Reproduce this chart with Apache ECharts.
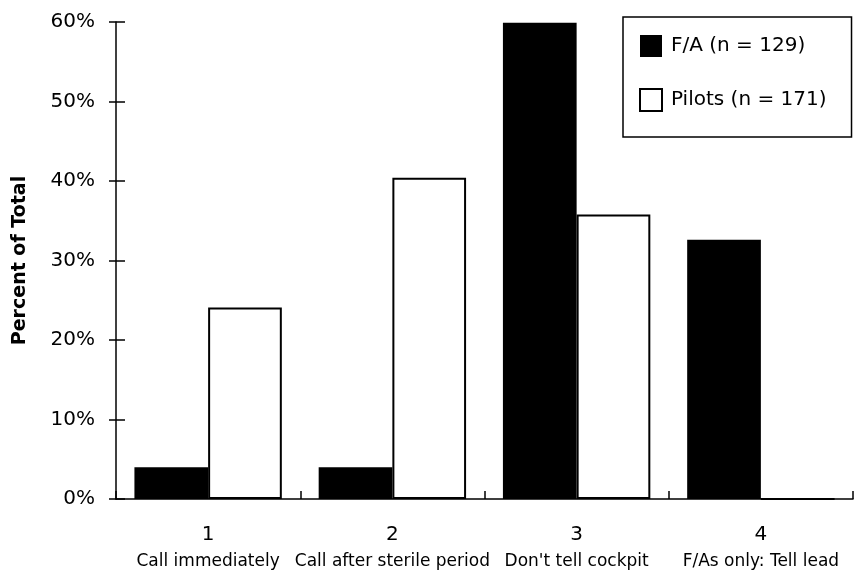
<!DOCTYPE html>
<html>
<head>
<meta charset="utf-8">
<script src="https://cdn.jsdelivr.net/npm/echarts@6/dist/echarts.min.js"></script>
<style>html,body{margin:0;padding:0;background:#fff;}#c{width:861px;height:575px;}</style>
</head>
<body>
<div id="c"></div>
<script>
var categoryNumbers = ['1', '2', '3', '4'];
var categoryNames = ['Call immediately', 'Call after sterile period', "Don't tell cockpit", 'F/As only: Tell lead'];
var faValues = [4.0, 4.0, 59.9, 32.6];
var pilotValues = [24.1, 40.4, 35.8, 0];
var seriesNames = ['F/A (n = 129)', 'Pilots (n = 171)'];
var yTicks = [0, 10, 20, 30, 40, 50, 60];

var categories = categoryNumbers.map(function (n, i) { return n + '|' + categoryNames[i]; });
var font = 'DejaVu Sans';
var gridPos = { left: 116, right: 8, top: 22, bottom: 76, outerBoundsMode: 'none', containLabel: false };
var chart = echarts.init(document.getElementById('c'));
chart.setOption({
  animation: false,
  backgroundColor: '#fff',
  textStyle: { fontFamily: font, color: '#000' },
  grid: [Object.assign({}, gridPos), Object.assign({}, gridPos)],
  legend: {
    orient: 'vertical',
    left: 623, top: 17,
    padding: [18, 25, 25, 16],
    itemWidth: 22, itemHeight: 22, itemGap: 31,
    icon: 'rect',
    borderColor: '#000', borderWidth: 1.5,
    textStyle: { fontFamily: font, fontSize: 20, color: '#000', padding: [0, 0, 0, 4] },
    data: seriesNames
  },
  xAxis: [{
    type: 'category',
    gridIndex: 0,
    data: categories,
    axisLine: { lineStyle: { color: '#000', width: 1.5 } },
    axisTick: { interval: 0, length: 7, lineStyle: { color: '#000', width: 1.5 } },
    axisLabel: {
      margin: 22,
      interval: 0,
      formatter: function (v) { var p = v.split('|'); return '{n|' + p[0] + '}\n{c|' + p[1] + '}'; },
      rich: {
        n: { fontFamily: font, fontSize: 20, lineHeight: 27, color: '#000' },
        c: { fontFamily: font, fontSize: 17, lineHeight: 27, color: '#000' }
      }
    }
  }, {
    type: 'category',
    gridIndex: 1,
    show: true,
    data: categories,
    position: 'bottom',
    axisLine: { show: false },
    axisTick: { show: true, interval: 0, inside: true, length: 8, lineStyle: { color: '#000', width: 1.5 } },
    axisLabel: { show: false, interval: 0 }
  }],
  yAxis: [{
    type: 'value',
    gridIndex: 0,
    min: yTicks[0], max: yTicks[yTicks.length - 1], interval: 10,
    name: 'Percent of Total',
    nameLocation: 'middle',
    nameRotate: 90,
    nameGap: 86,
    nameTextStyle: { fontFamily: font, fontSize: 19, fontWeight: 'bold', color: '#000' },
    splitLine: { show: false },
    axisLine: { show: true, lineStyle: { color: '#000', width: 1.5 } },
    axisTick: { show: true, length: 7, lineStyle: { color: '#000', width: 1.5 } },
    axisLabel: { margin: 21, fontFamily: font, fontSize: 20, color: '#000', formatter: '{value}%' }
  }, {
    type: 'value',
    gridIndex: 1,
    show: true,
    min: yTicks[0], max: yTicks[yTicks.length - 1], interval: 10,
    position: 'left',
    splitLine: { show: false },
    axisLine: { show: false },
    axisTick: { show: true, inside: true, length: 9, lineStyle: { color: '#000', width: 1.5 } },
    axisLabel: { show: false }
  }],
  series: [{
    name: seriesNames[0],
    type: 'bar',
    data: faValues,
    barGap: '0%',
    barCategoryGap: '20%',
    itemStyle: { color: '#000' }
  }, {
    name: seriesNames[1],
    type: 'bar',
    data: pilotValues,
    barGap: '0%',
    barCategoryGap: '20%',
    itemStyle: { color: '#fff', borderColor: '#000', borderWidth: 2 }
  }, {
    name: 'ticks',
    type: 'bar',
    xAxisIndex: 1,
    yAxisIndex: 1,
    data: [],
    silent: true
  }]
});
</script>
</body>
</html>
